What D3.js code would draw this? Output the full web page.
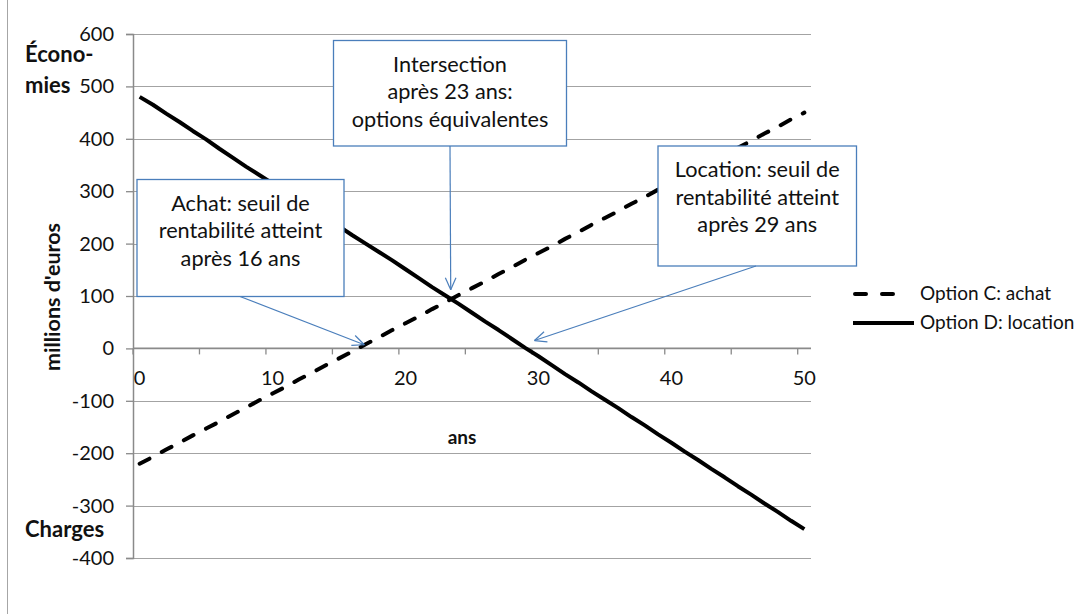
<!DOCTYPE html>
<html>
<head>
<meta charset="utf-8">
<script src="https://cdn.jsdelivr.net/npm/d3@7"></script>
<style>
  html, body { margin: 0; padding: 0; background: #fff; }
  svg { display: block; font-family: Lato, "Liberation Sans", sans-serif; }
</style>
</head>
<body>
<svg id="chart" width="1091" height="614"></svg>
<script>
// Years of the projection
const years = d3.range(0, 51);

// Option C: achat (cumulative savings, millions d'euros)
const achatValues = [-220, -207, -193, -180, -166, -153, -140, -126, -113, -99,
  -86, -73, -59, -46, -32, -19, -6, 8, 21, 35,
  48, 61, 75, 88, 102, 115, 128, 142, 155, 169,
  182, 195, 209, 222, 236, 249, 262, 276, 289, 303,
  316, 329, 343, 356, 370, 383, 396, 410, 423, 437, 450];

// Option D: location (cumulative savings, millions d'euros)
const locationValues = [480, 465, 448, 432, 415, 399, 381, 364, 347, 331,
  315, 299, 283, 266, 249, 233, 216, 200, 184, 168,
  151, 134, 117, 101, 85, 68, 51, 35, 18, 1,
  -15, -32, -49, -65, -82, -98, -114, -131, -147, -164,
  -180, -197, -213, -230, -246, -263, -279, -296, -312, -329, -345];

const yTicks = [-400, -300, -200, -100, 0, 100, 200, 300, 400, 500, 600];
const xLabelYears = [0, 10, 20, 30, 40, 50];
const xTickYears = [0, 5, 10, 15, 20, 25, 30, 35, 40, 45, 50];

const seriesNames = ["Option C: achat", "Option D: location"];

// Callouts: text lines and the (year, value) they point at
const callouts = [
  { lines: ["Achat: seuil de", "rentabilité atteint", "après 16 ans"], year: 16.9, value: 7 },
  { lines: ["Intersection", "après 23 ans:", "options équivalentes"], year: 23.4, value: 112 },
  { lines: ["Location: seuil de", "rentabilité atteint", "après 29 ans"], year: 29.7, value: 15 }
];

// ---- layout ----
const plot = { left: 133, right: 811, top: 34, bottom: 558 };
const boxes = [
  { x: 137, y: 179.5, w: 207, h: 117, from: [240, 296.5] },
  { x: 333.5, y: 40.5, w: 233, h: 105.5, from: [450, 146] },
  { x: 658, y: 146, w: 198.5, h: 120, from: [756, 266] }
];

const svg = d3.select("#chart");

const x = d3.scaleBand().domain(years).range([plot.left, plot.right]);
const xc = t => x(Math.floor(t)) + x.bandwidth() * (t - Math.floor(t) + 0.5);
const y = d3.scaleLinear().domain([-400, 600]).range([plot.bottom, plot.top]);

// outer frame edge
svg.append("line")
  .attr("x1", 7.5).attr("x2", 7.5).attr("y1", 0).attr("y2", 614)
  .attr("stroke", "#a6a6a6").attr("stroke-width", 1);

// horizontal gridlines
svg.append("g").selectAll("line")
  .data(yTicks)
  .join("line")
  .attr("x1", plot.left).attr("x2", plot.right)
  .attr("y1", d => Math.round(y(d)) + 0.5).attr("y2", d => Math.round(y(d)) + 0.5)
  .attr("stroke", "#a3a3a3").attr("stroke-width", 1.2);

// value axis
const yAxis = d3.axisLeft(y).tickValues(yTicks).tickSize(7).tickPadding(12)
  .tickFormat(d => d < 0 ? "-" + Math.abs(d) : d);
const gy = svg.append("g").attr("transform", `translate(${plot.left},0)`).call(yAxis);
gy.select(".domain").attr("stroke", "#8a8a8a").attr("stroke-width", 1.5);
gy.selectAll(".tick line").attr("stroke", "#8a8a8a").attr("stroke-width", 1.3);
gy.selectAll(".tick text")
  .attr("font-family", "Lato, 'Liberation Sans', sans-serif")
  .attr("font-size", 20).attr("fill", "#111");

// category axis crossing at zero
const y0 = y(0);
const gx = svg.append("g");
gx.append("line")
  .attr("x1", plot.left).attr("x2", plot.right).attr("y1", y0).attr("y2", y0)
  .attr("stroke", "#8a8a8a").attr("stroke-width", 1.6);
gx.selectAll("line.tk")
  .data(xTickYears)
  .join("line").attr("class", "tk")
  .attr("x1", d => x(d)).attr("x2", d => x(d))
  .attr("y1", y0).attr("y2", y0 + 6)
  .attr("stroke", "#8a8a8a").attr("stroke-width", 1.3);
gx.selectAll("text")
  .data(xLabelYears)
  .join("text")
  .attr("x", d => x(d) + x.bandwidth() / 2)
  .attr("y", y0 + 37)
  .attr("text-anchor", "middle")
  .attr("font-size", 20).attr("fill", "#111")
  .text(d => d);

// axis titles
svg.append("text").attr("x", 462).attr("y", 444).attr("text-anchor", "middle")
  .attr("font-weight", "bold").attr("font-size", 19).attr("fill", "#111").text("ans");
svg.append("text")
  .attr("transform", "translate(60,297) rotate(-90)")
  .attr("text-anchor", "middle")
  .attr("font-weight", "bold").attr("font-size", 21.5).attr("fill", "#111")
  .text("millions d'euros");
svg.append("text").attr("x", 25).attr("y", 61.5)
  .attr("font-weight", "bold").attr("font-size", 22).attr("fill", "#111").text("Écono-");
svg.append("text").attr("x", 25).attr("y", 92.5)
  .attr("font-weight", "bold").attr("font-size", 22).attr("fill", "#111").text("mies");
svg.append("text").attr("x", 25).attr("y", 536.5)
  .attr("font-weight", "bold").attr("font-size", 22).attr("fill", "#111").text("Charges");

// series lines
const line = d3.line()
  .x((d, i) => x(years[i]) + x.bandwidth() / 2)
  .y(d => y(d));

svg.append("path").datum(achatValues)
  .attr("d", line).attr("fill", "none")
  .attr("stroke", "#000").attr("stroke-width", 4)
  .attr("stroke-linecap", "round")
  .attr("stroke-dasharray", "11,14");

svg.append("path").datum(locationValues)
  .attr("d", line).attr("fill", "none")
  .attr("stroke", "#000").attr("stroke-width", 4)
  .attr("stroke-linejoin", "round");

// callout boxes with arrows
const blue = "#4a7ebb";
callouts.forEach((c, k) => {
  const b = boxes[k];
  const g = svg.append("g");
  const tx = xc(c.year), ty = y(c.value);
  const [fx, fy] = b.from;
  g.append("rect")
    .attr("x", b.x).attr("y", b.y).attr("width", b.w).attr("height", b.h)
    .attr("fill", "#fff").attr("stroke", blue).attr("stroke-width", 1.3);
  g.selectAll("text")
    .data(c.lines)
    .join("text")
    .attr("x", b.x + b.w / 2)
    .attr("y", (d, i) => b.y + 31 + i * 27.5)
    .attr("text-anchor", "middle")
    .attr("font-size", 21.7).attr("fill", "#111")
    .text(d => d);
  // shaft
  g.append("line")
    .attr("x1", fx).attr("y1", fy).attr("x2", tx).attr("y2", ty)
    .attr("stroke", blue).attr("stroke-width", 1.2);
  // open arrowhead
  const ang = Math.atan2(ty - fy, tx - fx);
  const len = 13, spread = 0.42;
  [ang + Math.PI - spread, ang + Math.PI + spread].forEach(a => {
    g.append("line")
      .attr("x1", tx).attr("y1", ty)
      .attr("x2", tx + len * Math.cos(a)).attr("y2", ty + len * Math.sin(a))
      .attr("stroke", blue).attr("stroke-width", 1.2);
  });
});

// legend
const legend = svg.append("g");
const legendRows = [
  { name: seriesNames[0], dash: "11,14", y: 294, x1: 855, x2: 898 },
  { name: seriesNames[1], dash: null, y: 323, x1: 853, x2: 914 }
];
legendRows.forEach(r => {
  legend.append("line")
    .attr("x1", r.x1).attr("x2", r.x2).attr("y1", r.y).attr("y2", r.y)
    .attr("stroke", "#000").attr("stroke-width", 4)
    .attr("stroke-linecap", r.dash ? "round" : "butt")
    .attr("stroke-dasharray", r.dash ? "11,16" : null);
  legend.append("text")
    .attr("x", 920).attr("y", r.y + 6)
    .attr("font-size", 19).attr("fill", "#111")
    .text(r.name);
});
</script>
</body>
</html>
